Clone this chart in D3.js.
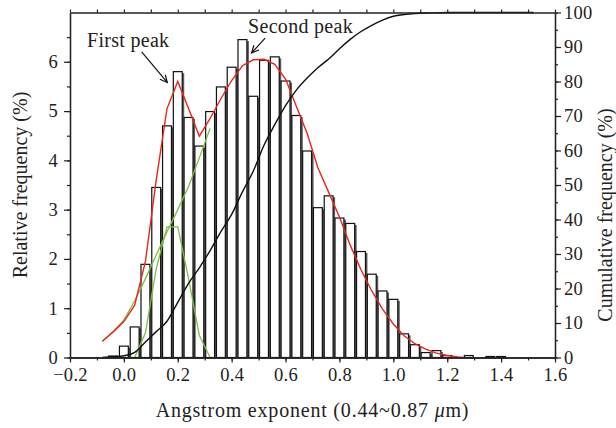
<!DOCTYPE html>
<html>
<head>
<meta charset="utf-8">
<script src="https://cdn.jsdelivr.net/npm/d3@7"></script>
<style>
  body { margin: 0; background: #fff; }
  svg text { font-family: "Liberation Serif", "DejaVu Serif", serif; fill: #222; }
</style>
</head>
<body>
<svg id="chart" width="616" height="428"></svg>
<script>
// Histogram bins (bin centres) and relative frequency (%)
const binCenters = [-0.04, 0.00, 0.04, 0.08, 0.12, 0.16, 0.20, 0.24, 0.28, 0.32, 0.36, 0.40, 0.44, 0.48,
  0.52, 0.56, 0.60, 0.64, 0.68, 0.72, 0.76, 0.80, 0.84, 0.88, 0.92, 0.96, 1.00, 1.04, 1.08, 1.12,
  1.16, 1.20, 1.24, 1.28, 1.32, 1.36, 1.40];
const relFreq = [0.03, 0.23, 0.62, 1.89, 3.45, 4.70, 5.80, 4.87, 4.29, 4.99, 5.49, 5.89, 6.45, 5.30,
  6.03, 6.10, 5.61, 4.91, 4.19, 3.04, 3.28, 2.83, 2.72, 2.15, 1.69, 1.35, 1.18, 0.48, 0.26, 0.10,
  0.14, 0.04, 0, 0.04, 0, 0.02, 0.02];

// Fitted total curve (red)
const fitX = [-0.08, -0.04, 0.00, 0.04, 0.08, 0.12, 0.16, 0.20, 0.24, 0.28, 0.32, 0.36, 0.40, 0.44,
  0.48, 0.52, 0.56, 0.60, 0.64, 0.68, 0.72, 0.76, 0.80, 0.84, 0.88, 0.92, 0.96, 1.00, 1.04, 1.08,
  1.12, 1.16, 1.20, 1.24, 1.26];
const fitY = [0.33, 0.52, 0.73, 1.06, 1.95, 3.6, 5.05, 5.6, 5.05, 4.49, 4.85, 5.25, 5.62, 5.92,
  6.04, 6.05, 5.95, 5.65, 5.1, 4.55, 3.85, 3.35, 2.85, 2.28, 1.78, 1.35, 0.98, 0.68, 0.44, 0.28,
  0.17, 0.09, 0.04, 0.01, 0];

// First peak component (green)
const peak1X = [0.04, 0.08, 0.12, 0.16, 0.20, 0.24, 0.28, 0.32];
const peak1Y = [0, 0.5, 1.8, 2.65, 2.65, 1.6, 0.45, 0];

// Second peak component, rising part visible (green)
const peak2X = [-0.08, -0.04, 0.00, 0.04, 0.08, 0.12, 0.16, 0.20, 0.24, 0.28, 0.32];
const peak2Y = [0.33, 0.52, 0.76, 1.15, 1.6, 2.08, 2.55, 3.0, 3.47, 4.05, 4.65];

// Cumulative frequency (%)
const cumX = [-0.08, -0.04, 0.00, 0.04, 0.08, 0.12, 0.16, 0.20, 0.24, 0.28, 0.32, 0.36, 0.40, 0.44,
  0.48, 0.52, 0.56, 0.60, 0.64, 0.68, 0.72, 0.76, 0.80, 0.84, 0.88, 0.92, 0.96, 1.00, 1.04, 1.08,
  1.12, 1.16, 1.20, 1.24, 1.28, 1.32, 1.36, 1.40, 1.44, 1.48, 1.52];
const cumY = [0, 0.2, 0.5, 1.5, 4.5, 7.5, 10.5, 16, 21.5, 26, 31, 36.5, 41.5, 48,
  54, 61.5, 67.5, 73, 77.5, 81, 84, 86.5, 89.5, 92.2, 94.5, 96.3, 97.8, 98.9, 99.4, 99.7,
  99.85, 99.9, 100, 100, 100, 100, 100, 100, 100, 100, 100];

const xTicks = [-0.2, 0.0, 0.2, 0.4, 0.6, 0.8, 1.0, 1.2, 1.4, 1.6];
const yLeftTicks = [0, 1, 2, 3, 4, 5, 6];
const yRightTicks = [0, 10, 20, 30, 40, 50, 60, 70, 80, 90, 100];

const W = 616, H = 428;
const m = { top: 12.5, right: 61, bottom: 70.5, left: 70 };
const svg = d3.select("#chart");

const x = d3.scaleLinear().domain([-0.2, 1.6]).range([m.left, W - m.right]);
const y = d3.scaleLinear().domain([0, 7]).range([H - m.bottom, m.top]);
const yR = d3.scaleLinear().domain([0, 100]).range([H - m.bottom, m.top]);
const y0 = H - m.bottom;

// Bars: grey shadow, then white box with black border
const bins = binCenters.map((c, i) => ({ c, v: relFreq[i] })).filter(d => d.v > 0);
const half = 0.0165;
svg.append("g").selectAll("rect").data(bins).join("rect")
  .attr("x", d => x(d.c - half) + 2).attr("y", d => y(d.v) + 1.5)
  .attr("width", d => x(d.c + half) - x(d.c - half)).attr("height", d => y0 - y(d.v) - 1.5)
  .attr("fill", "#5a5a5a");
svg.append("g").selectAll("rect").data(bins).join("rect")
  .attr("x", d => x(d.c - half)).attr("y", d => y(d.v))
  .attr("width", d => x(d.c + half) - x(d.c - half)).attr("height", d => y0 - y(d.v))
  .attr("fill", "#fff").attr("stroke", "#111").attr("stroke-width", 1.2);

// Curves
const line = d3.line().x(d => x(d[0])).y(d => y(d[1]));
svg.append("path").datum(d3.zip(peak1X, peak1Y))
  .attr("fill", "none").attr("stroke", "#7cc040").attr("stroke-width", 1.3).attr("d", line);
svg.append("path").datum(d3.zip(peak2X, peak2Y))
  .attr("fill", "none").attr("stroke", "#7cc040").attr("stroke-width", 1.3).attr("d", line);
svg.append("path").datum(d3.zip(fitX, fitY))
  .attr("fill", "none").attr("stroke", "#e8261c").attr("stroke-width", 1.4).attr("d", line);

const cumLine = d3.line().x(d => x(d[0])).y(d => yR(d[1])).curve(d3.curveMonotoneX);
svg.append("path").datum(d3.zip(cumX, cumY))
  .attr("fill", "none").attr("stroke", "#111").attr("stroke-width", 1.4).attr("d", cumLine);

// Axes
const fmtX = d => (d < 0 ? "\u2212" : "") + Math.abs(d).toFixed(1);
const minorX = d3.range(-2, 17).map(i => i / 10);
const styleAxis = ax => {
  ax.select(".domain").attr("stroke", "#222").attr("stroke-width", 1.3);
  ax.selectAll(".tick line").attr("stroke", "#222").attr("stroke-width", 1.2);
  ax.selectAll(".tick text").style("font-size", "18.5px").style("font-family", "Liberation Serif, serif")
    .style("letter-spacing", "0.3px").attr("fill", "#222");
};

svg.append("g").attr("transform", `translate(0,${y0})`)
  .call(d3.axisBottom(x).tickValues(minorX).tickFormat("").tickSize(3).tickSizeOuter(0)).call(styleAxis);
svg.append("g").attr("transform", `translate(0,${y0})`)
  .call(d3.axisBottom(x).tickValues(xTicks).tickFormat(fmtX).tickSize(5).tickSizeOuter(0).tickPadding(5)).call(styleAxis);

svg.append("g").attr("transform", `translate(0,${m.top})`)
  .call(d3.axisTop(x).tickValues(minorX).tickFormat("").tickSize(3).tickSizeOuter(0)).call(styleAxis);

svg.append("g").attr("transform", `translate(${m.left},0)`)
  .call(d3.axisLeft(y).tickValues(d3.range(0, 14).map(i => i / 2)).tickFormat("").tickSize(3).tickSizeOuter(0)).call(styleAxis);
svg.append("g").attr("transform", `translate(${m.left},0)`)
  .call(d3.axisLeft(y).tickValues(yLeftTicks).tickFormat(d3.format("d")).tickSize(6).tickSizeOuter(0).tickPadding(6)).call(styleAxis);

svg.append("g").attr("transform", `translate(${W - m.right},0)`)
  .call(d3.axisRight(yR).tickValues(d3.range(0, 21).map(i => i * 5)).tickFormat("").tickSize(3).tickSizeOuter(0)).call(styleAxis);
svg.append("g").attr("transform", `translate(${W - m.right},0)`)
  .call(d3.axisRight(yR).tickValues(yRightTicks).tickFormat(d3.format("d")).tickSize(6).tickSizeOuter(0).tickPadding(3)).call(styleAxis);

// Axis titles
const xt = svg.append("text").attr("x", (m.left + W - m.right) / 2).attr("y", 417)
  .attr("text-anchor", "middle").style("font-size", "20px").style("letter-spacing", "0.8px");
xt.append("tspan").text("Angstrom exponent (0.44~0.87 ");
xt.append("tspan").style("font-style", "italic").text("\u03bc");
xt.append("tspan").text("m)");

svg.append("text").attr("transform", `translate(27,${(m.top + y0) / 2}) rotate(-90)`)
  .attr("text-anchor", "middle").style("font-size", "20px").text("Relative frequency (%)");
svg.append("text").attr("transform", `translate(612,${(m.top + y0) / 2 + 30}) rotate(-90)`)
  .attr("text-anchor", "middle").style("font-size", "20px").text("Cumulative frequency (%)");

// Peak annotations
function arrow(x1, y1, x2, y2) {
  const a = Math.atan2(y2 - y1, x2 - x1), L = 8, s = 0.45;
  svg.append("line").attr("x1", x1).attr("y1", y1).attr("x2", x2).attr("y2", y2)
    .attr("stroke", "#111").attr("stroke-width", 1.2);
  svg.append("path")
    .attr("d", `M${x2 - L * Math.cos(a - s)},${y2 - L * Math.sin(a - s)}L${x2},${y2}L${x2 - L * Math.cos(a + s)},${y2 - L * Math.sin(a + s)}`)
    .attr("fill", "none").attr("stroke", "#111").attr("stroke-width", 1.2);
}
svg.append("text").attr("x", x(-0.137)).attr("y", y(6.31)).style("font-size", "20px").style("letter-spacing", "0.3px").text("First peak");
arrow(x(0.066), y(6.20), x(0.161), y(5.58));
svg.append("text").attr("x", x(0.461)).attr("y", y(6.58)).style("font-size", "20px").style("letter-spacing", "0.3px").text("Second peak");
arrow(x(0.524), y(6.48), x(0.474), y(6.18));
</script>
</body>
</html>
